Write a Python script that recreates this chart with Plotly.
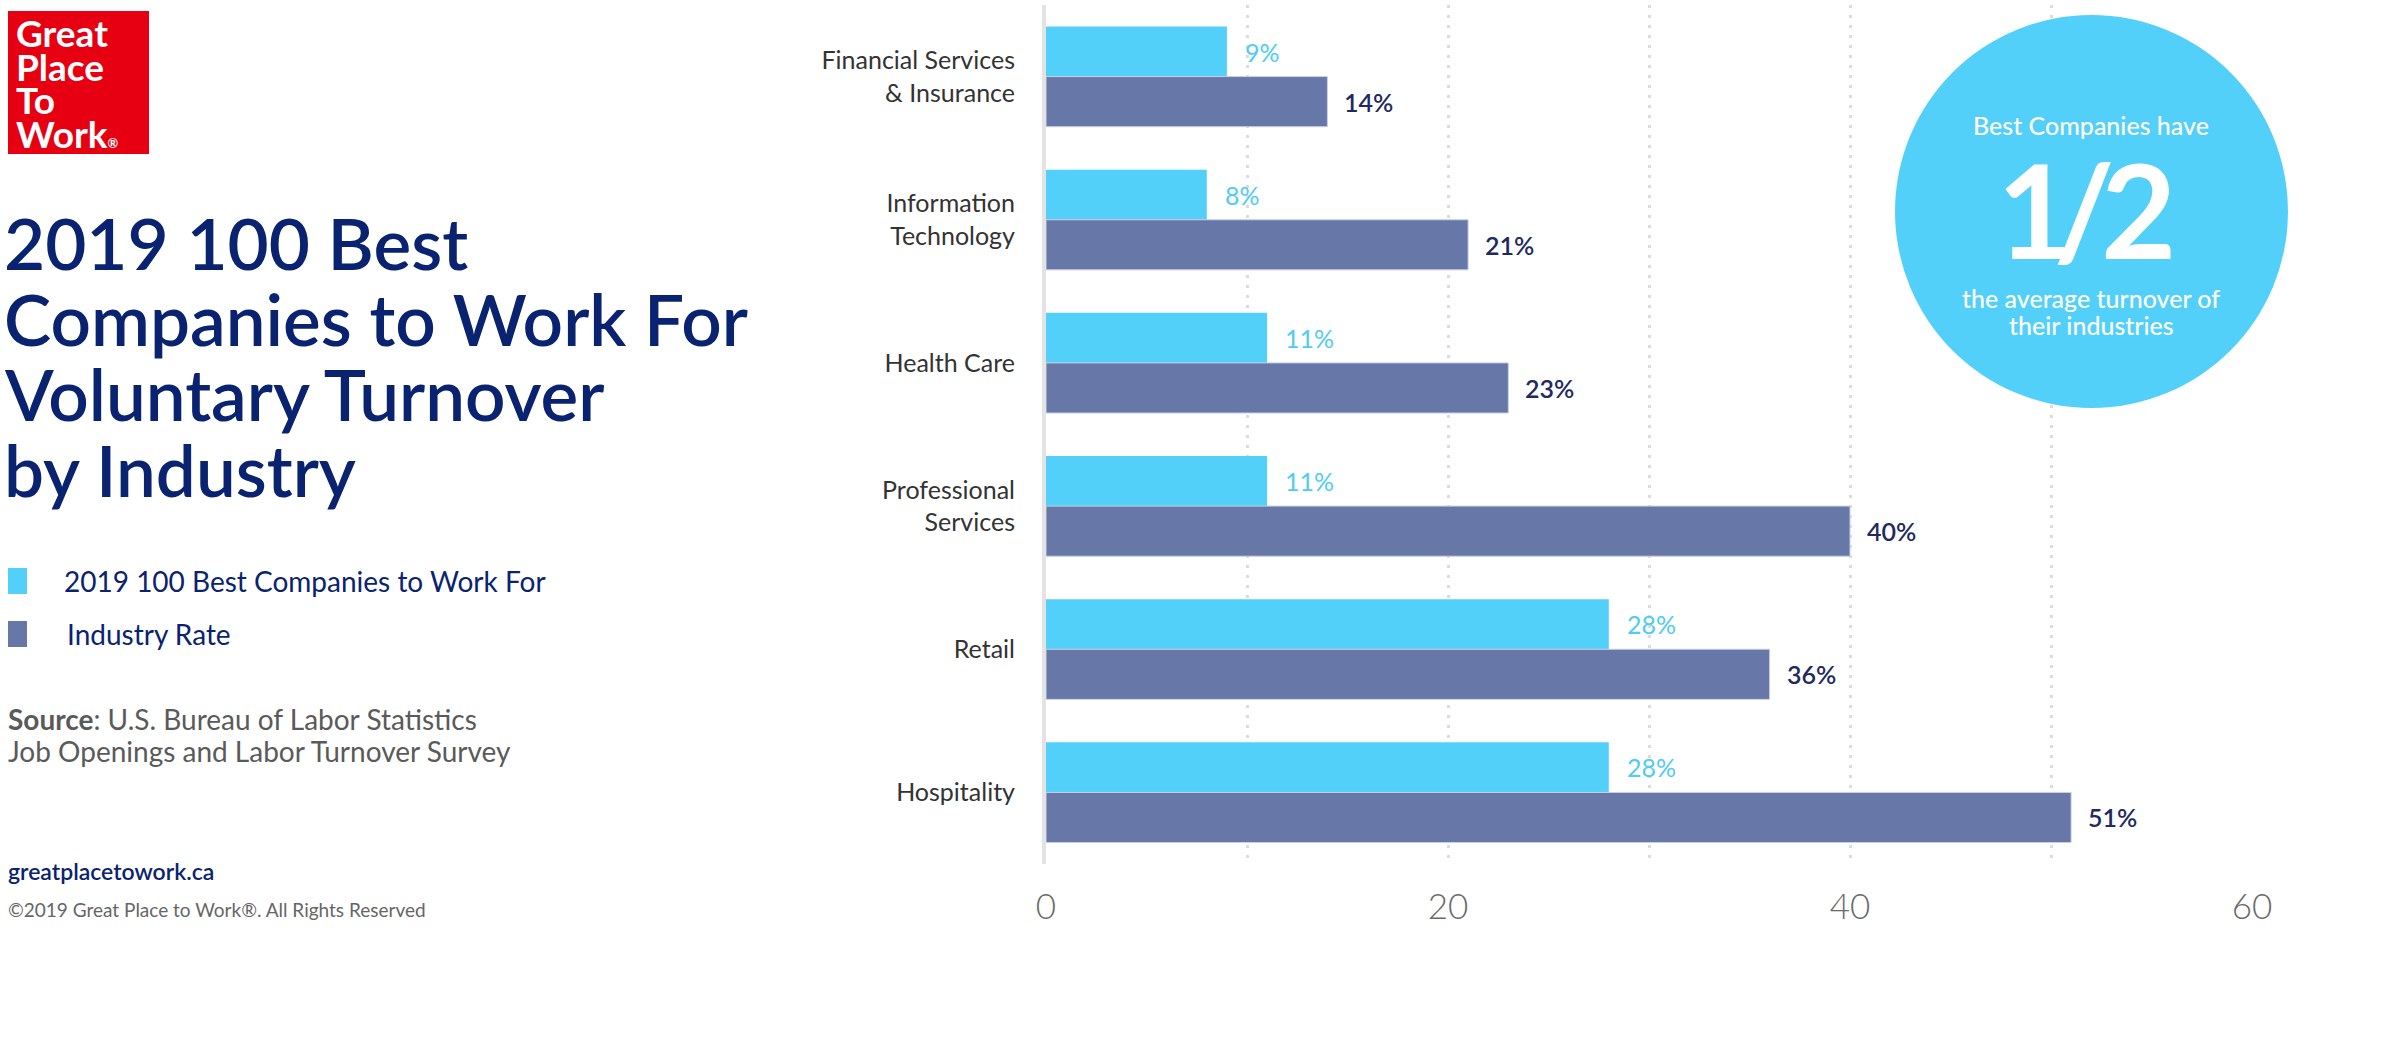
import plotly.graph_objects as go

# ---------------- data ----------------
categories = ["Financial Services<br>& Insurance", "Information<br>Technology", "Health Care",
              "Professional<br>Services", "Retail", "Hospitality"]
best_companies = [9, 8, 11, 11, 28, 28]
industry_rate = [14, 21, 23, 40, 36, 51]
x_tick_vals = [0, 20, 40, 60]
x_tick_text = ["0", "20", "40", "60"]
x_minor_vals = [10, 30, 50]

series_names = ["2019 100 Best Companies to Work For", "Industry Rate"]
title_lines = ["2019 100 Best", "Companies to Work For", "Voluntary Turnover", "by Industry"]
logo_lines = ["Great", "Place", "To", "Work<span style='font-size:13px'>®</span>"]
callout_top = "Best Companies have"
callout_glyphs = ["1", "/", "2"]
callout_bottom = ["the average turnover of", "their industries"]

# ---------------- style ----------------
W, H = 2384, 1049
L, R, T, B = 1046, 132, 5, 185
PW, PH = W - L - R, H - T - B
CYAN = "#52D0FA"
SLATE = "#6677A8"
NAVY = "#0A2370"
DARKLBL = "#22295F"
GRAY = "#5A5A5A"
FONT = "Lato"
GRID = dict(color="#DCDCDC", width=3, dash="3px,7px")


def px(x):
    return (x - L) / PW


def py(y):
    return (H - B - y) / PH


fig = go.Figure()
fig.add_trace(go.Bar(y=categories, x=best_companies, orientation="h", name=series_names[0],
                     marker=dict(color=CYAN, line=dict(width=0)), showlegend=False))
fig.add_trace(go.Bar(y=categories, x=industry_rate, orientation="h", name=series_names[1],
                     marker=dict(color=SLATE, line=dict(color="#C9D0E4", width=1)), showlegend=False))

ann = []
# value labels
for c, v in zip(categories, best_companies):
    ann.append(dict(x=v, y=c, xref="x", yref="y", text=f"{v}%", showarrow=False,
                    xanchor="left", yanchor="middle", xshift=16, yshift=25,
                    font=dict(family=FONT, size=25, color="#4FCBF5")))
for c, v in zip(categories, industry_rate):
    ann.append(dict(x=v, y=c, xref="x", yref="y", text=f"{v}%", showarrow=False,
                    xanchor="left", yanchor="middle", xshift=15, yshift=-25,
                    font=dict(family=FONT, size=25, color=DARKLBL, weight=600)))

# logo
shapes = [dict(type="rect", xref="paper", yref="paper", x0=px(8), x1=px(149), y0=py(154), y1=py(11),
               fillcolor="#E60012", line=dict(width=0), layer="above")]
for t, yc in zip(logo_lines, [32.5, 66, 99.5, 133]):
    ann.append(dict(x=px(14), y=py(yc), xref="paper", yref="paper", text=t, showarrow=False,
                    xanchor="left", yanchor="middle",
                    font=dict(family=FONT, size=37, color="white", weight="bold")))

# title
for t, yc in zip(title_lines, [242, 318, 394, 469]):
    ann.append(dict(x=px(2), y=py(yc), xref="paper", yref="paper", text=t, showarrow=False,
                    xanchor="left", yanchor="middle",
                    font=dict(family=FONT, size=71, color=NAVY, weight=600)))

# legend
for (col, name, yc, xt) in [(CYAN, series_names[0], 581, 62), (SLATE, series_names[1], 634, 65)]:
    shapes.append(dict(type="rect", xref="paper", yref="paper", x0=px(8), x1=px(27),
                       y0=py(yc + 13), y1=py(yc - 13), fillcolor=col, line=dict(width=0)))
    ann.append(dict(x=px(xt), y=py(yc), xref="paper", yref="paper", text=name, showarrow=False,
                    xanchor="left", yanchor="middle",
                    font=dict(family=FONT, size=28, color=NAVY)))

# source
ann.append(dict(x=px(6), y=py(719), xref="paper", yref="paper",
                text="<b>Source</b>: U.S. Bureau of Labor Statistics", showarrow=False,
                xanchor="left", yanchor="middle", font=dict(family=FONT, size=28, color=GRAY)))
ann.append(dict(x=px(6), y=py(751), xref="paper", yref="paper",
                text="Job Openings and Labor Turnover Survey", showarrow=False,
                xanchor="left", yanchor="middle", font=dict(family=FONT, size=28, color=GRAY)))
ann.append(dict(x=px(6), y=py(871), xref="paper", yref="paper",
                text="greatplacetowork.ca", showarrow=False,
                xanchor="left", yanchor="middle",
                font=dict(family=FONT, size=23, color=NAVY, weight=600)))
ann.append(dict(x=px(6), y=py(909), xref="paper", yref="paper",
                text="©2019 Great Place to Work®. All Rights Reserved", showarrow=False,
                xanchor="left", yanchor="middle", font=dict(family=FONT, size=19, color="#666666")))

# circle callout
shapes.append(dict(type="circle", xref="paper", yref="paper", x0=px(1895), x1=px(2288),
                   y0=py(408), y1=py(15), fillcolor=CYAN, line=dict(width=0), layer="above"))
ann.append(dict(x=px(2091), y=py(125), xref="paper", yref="paper", text=callout_top,
                showarrow=False, xanchor="center", yanchor="middle",
                font=dict(family=FONT, size=25, color="white", weight=500)))
for g, xc in zip(callout_glyphs, [2034, 2084, 2138]):
    ann.append(dict(x=px(xc), y=py(209), xref="paper", yref="paper", text=g,
                    showarrow=False, xanchor="center", yanchor="middle",
                    font=dict(family=FONT, size=130, color="white", weight="bold")))
for t, yc in zip(callout_bottom, [298, 325]):
    ann.append(dict(x=px(2091), y=py(yc), xref="paper", yref="paper", text=t,
                    showarrow=False, xanchor="center", yanchor="middle",
                    font=dict(family=FONT, size=25, color="white", weight=500)))

fig.update_layout(
    width=W, height=H,
    margin=dict(l=L, r=R, t=T, b=B, autoexpand=False),
    paper_bgcolor="white", plot_bgcolor="white",
    barmode="group", bargap=0.30, bargroupgap=0,
    showlegend=False,
    annotations=ann, shapes=shapes,
    xaxis=dict(range=[0, 60], tickmode="array", tickvals=x_tick_vals, ticktext=x_tick_text,
               showgrid=True, gridcolor=GRID["color"], gridwidth=GRID["width"], griddash=GRID["dash"],
               minor=dict(tickmode="array", tickvals=x_minor_vals, showgrid=True, ticks="",
                          gridcolor=GRID["color"], gridwidth=GRID["width"], griddash=GRID["dash"]),
               zeroline=False, showline=False, ticks="",
               tickfont=dict(family=FONT, size=35, color="#6A6A6A", weight=300),
               ticklabelstandoff=19),
    yaxis=dict(autorange="reversed", showgrid=False, zeroline=False,
               showline=True, linecolor="#E3E3E3", linewidth=4, ticks="",
               tickfont=dict(family=FONT, size=25, color="#333333"),
               ticklabelstandoff=22),
)

fig.write_html("out.html", config={"displayModeBar": False},
               post_script="document.body.style.margin='0';")
